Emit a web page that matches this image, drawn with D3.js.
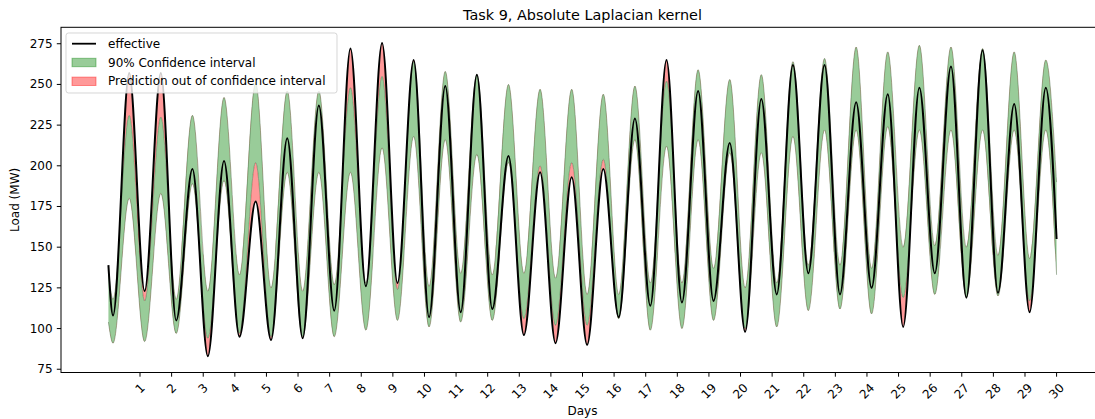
<html lang="en">
<head>
<meta charset="utf-8">
<title>Task 9, Absolute Laplacian kernel</title>
<style>
  body { margin: 0; background-color: white; }
  svg { font-family: "DejaVu Sans", sans-serif; }
  .tick text { font-size: 12px; fill: black; }
</style>
</head>
<body>
<svg id="chart" width="1095" height="419"></svg>
<script src="https://d3js.org/d3.v7.min.js"></script>
<script>
// one reading per day: night trough (~03:30) and afternoon peak (~15:50)
var effTrough = [108, 123, 105, 83, 95, 93, 94, 111, 126, 128, 107, 110, 112, 96, 91, 90, 107, 114, 116, 117, 98, 121, 134, 121, 125, 101, 134, 119, 122, 110];
var effPeak = [257, 257, 198, 203, 178, 217, 237, 272, 275.5, 265, 249, 256, 206, 196, 193, 198, 229, 265, 246, 214, 241, 262, 262, 239, 244, 248, 261, 271, 238, 248];
var lowTrough = [91, 92, 97, 94, 97, 95, 95, 95, 99, 105, 101, 104, 105, 106, 102, 102, 106, 99, 100, 105, 100, 101, 111, 112, 109, 119, 121, 119, 120, 117];
var lowPeak = [180, 183, 189, 191, 202, 196, 196, 196, 211, 218, 216, 207, 202, 200, 202, 204, 216, 212, 216, 208, 208, 218, 222, 222, 224, 222, 222, 222, 222, 222];
var highTrough = [118, 117, 118, 123, 133, 125, 123, 127, 128, 124, 126, 134, 133, 134, 131, 121, 121, 128, 128, 137, 125, 128, 139, 139, 137, 150, 151, 150, 145, 143];
var highPeak = [231, 230, 231, 242, 251, 246, 246, 248, 255, 264, 258, 256, 250, 247, 247, 244, 249, 252, 259, 253, 256, 264, 266, 273, 270, 274, 273, 272, 270, 265];
// first and last hour of the window
var effEnds = [139, 155];
var lowEnds = [104, 133];
var highEnds = [136, 190];
var troughHour = 3.5, peakHour = 15.8, totalHours = 720;

var dayTicks = [1, 2, 3, 4, 5, 6, 7, 8, 9, 10, 11, 12, 13, 14, 15, 16, 17, 18, 19, 20, 21, 22, 23, 24, 25, 26, 27, 28, 29, 30];
var loadTicks = [75, 100, 125, 150, 175, 200, 225, 250, 275];

var rows = [{hour: 0, eff: effEnds[0], low: lowEnds[0], high: highEnds[0]}];
effTrough.forEach(function(v, i) {
    rows.push({hour: i * 24 + troughHour, eff: v, low: lowTrough[i], high: highTrough[i]});
    rows.push({hour: i * 24 + peakHour, eff: effPeak[i], low: lowPeak[i], high: highPeak[i]});
});
rows.push({hour: totalHours, eff: effEnds[1], low: lowEnds[1], high: highEnds[1]});

var plotLeft = 61, plotRight = 1104, plotTop = 27.3, plotBottom = 372.5;

var x = d3.scaleLinear().domain([-36, 756]).range([plotLeft, plotRight]);
var y = d3.scaleLinear().domain([73, 285.1]).range([plotBottom, plotTop]);

var svg = d3.select("#chart");
var defs = svg.append("defs");

defs.append("clipPath").attr("id", "plot")
    .append("rect")
    .attr("x", plotLeft).attr("y", plotTop)
    .attr("width", plotRight - plotLeft).attr("height", plotBottom - plotTop);

var curve = d3.curveMonotoneX;

// regions above the upper bound / below the lower bound
defs.append("clipPath").attr("id", "aboveHigh")
    .append("path")
    .attr("d", d3.area().curve(curve).x(d => x(d.hour)).y0(0).y1(d => y(d.high))(rows));
defs.append("clipPath").attr("id", "belowLow")
    .append("path")
    .attr("d", d3.area().curve(curve).x(d => x(d.hour)).y0(d => y(d.low)).y1(419)(rows));

var plot = svg.append("g").attr("clip-path", "url(#plot)");

plot.append("path")
    .attr("d", d3.area().curve(curve).x(d => x(d.hour)).y0(d => y(d.low)).y1(d => y(d.high))(rows))
    .attr("fill", "green")
    .attr("fill-opacity", 0.4);

["low", "high"].forEach(function(k) {
    plot.append("path")
        .attr("d", d3.line().curve(curve).x(d => x(d.hour)).y(d => y(d[k]))(rows))
        .attr("fill", "none")
        .attr("stroke", "#3c643c")
        .attr("stroke-opacity", 0.45)
        .attr("stroke-width", 1);
});

plot.append("g").attr("clip-path", "url(#aboveHigh)")
    .append("path")
    .attr("d", d3.area().curve(curve).x(d => x(d.hour)).y0(d => y(d.high)).y1(d => y(d.eff))(rows))
    .attr("fill", "red")
    .attr("fill-opacity", 0.4);

plot.append("g").attr("clip-path", "url(#belowLow)")
    .append("path")
    .attr("d", d3.area().curve(curve).x(d => x(d.hour)).y0(d => y(d.low)).y1(d => y(d.eff))(rows))
    .attr("fill", "red")
    .attr("fill-opacity", 0.4);

plot.append("path")
    .attr("d", d3.line().curve(curve).x(d => x(d.hour)).y(d => y(d.eff))(rows))
    .attr("fill", "none")
    .attr("stroke", "black")
    .attr("stroke-width", 2)
    .attr("stroke-linejoin", "round");

// spines
svg.append("rect")
    .attr("x", plotLeft).attr("y", plotTop)
    .attr("width", plotRight - plotLeft).attr("height", plotBottom - plotTop)
    .attr("fill", "none")
    .attr("stroke", "black")
    .attr("stroke-width", 1);

// y axis
var yAxis = svg.append("g").attr("class", "tick");
loadTicks.forEach(function(v) {
    yAxis.append("line")
        .attr("x1", plotLeft - 4.2).attr("x2", plotLeft)
        .attr("y1", y(v)).attr("y2", y(v))
        .attr("stroke", "black");
    yAxis.append("text")
        .attr("x", plotLeft - 8.4).attr("y", y(v))
        .attr("text-anchor", "end")
        .attr("dominant-baseline", "central")
        .text(v);
});

// x axis, labels turned 45 degrees
var xAxis = svg.append("g").attr("class", "tick");
dayTicks.forEach(function(d) {
    var px = x(d * 24);
    xAxis.append("line")
        .attr("x1", px).attr("x2", px)
        .attr("y1", plotBottom).attr("y2", plotBottom + 4.2)
        .attr("stroke", "black");
    var t = xAxis.append("text")
        .attr("text-anchor", "middle")
        .attr("dominant-baseline", "central")
        .text(d);
    var w = t.node().getComputedTextLength();
    var bh = (w + 14) * Math.SQRT1_2;
    t.attr("transform", "translate(" + px + "," + (plotBottom + 8.4 + bh / 2) + ") rotate(-45)");
});

svg.append("text")
    .attr("x", (plotLeft + plotRight) / 2).attr("y", 415)
    .attr("text-anchor", "middle")
    .style("font-size", "12px")
    .text("Days");

svg.append("text")
    .attr("transform", "translate(19," + ((plotTop + plotBottom) / 2) + ") rotate(-90)")
    .attr("text-anchor", "middle")
    .style("font-size", "12px")
    .text("Load (MW)");

svg.append("text")
    .attr("x", (plotLeft + plotRight) / 2).attr("y", 20)
    .attr("text-anchor", "middle")
    .style("font-size", "14.4px")
    .text("Task 9, Absolute Laplacian kernel");

// legend
var legend = svg.append("g");
legend.append("rect")
    .attr("x", 66).attr("y", 33)
    .attr("width", 271).attr("height", 60)
    .attr("rx", 2.5)
    .attr("fill", "white").attr("fill-opacity", 0.8)
    .attr("stroke", "#cccccc").attr("stroke-opacity", 0.8);

var entries = [
    {label: "effective", kind: "line"},
    {label: "90% Confidence interval", kind: "green"},
    {label: "Prediction out of confidence interval", kind: "red"}
];
entries.forEach(function(e, i) {
    var cy = 43.7 + i * 18.8;
    if (e.kind === "line") {
        legend.append("line")
            .attr("x1", 72).attr("x2", 96)
            .attr("y1", cy).attr("y2", cy)
            .attr("stroke", "black").attr("stroke-width", 1.8);
    } else {
        legend.append("rect")
            .attr("x", 72).attr("y", cy - 4.2)
            .attr("width", 24).attr("height", 8.4)
            .attr("fill", e.kind).attr("fill-opacity", 0.4)
            .attr("stroke", e.kind).attr("stroke-opacity", 0.4);
    }
    legend.append("text")
        .attr("x", 108).attr("y", cy)
        .attr("dominant-baseline", "central")
        .style("font-size", "12px")
        .text(e.label);
});
</script>
</body>
</html>
